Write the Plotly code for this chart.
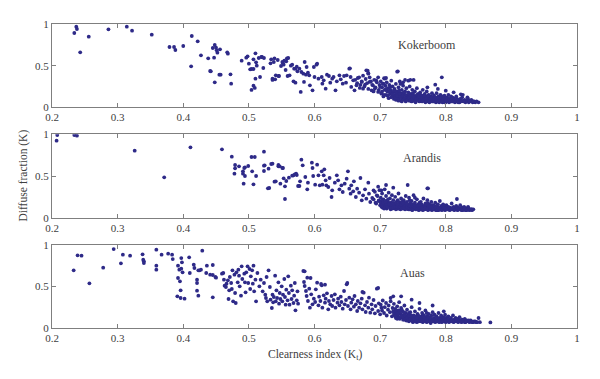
import plotly.graph_objects as go

# ---------------- data ----------------
kokerboom_pts = [
    (0.234,0.892),(0.237,0.968),(0.238,0.94),(0.256,0.848),(0.243,0.66),(0.286,0.936),(0.314,0.968),(0.322,0.92),
    (0.352,0.872),(0.379,0.724),(0.386,0.724),(0.388,0.688),(0.400,0.736),(0.413,0.856),(0.422,0.792),(0.412,0.492),
    (0.427,0.624),(0.438,0.588),(0.441,0.436),(0.445,0.712),(0.447,0.596),(0.448,0.748),(0.450,0.716),(0.451,0.684),
    (0.452,0.656),(0.448,0.30),(0.455,0.392),(0.456,0.696),(0.467,0.66),(0.468,0.644),(0.472,0.396),(0.473,0.284),
    (0.489,0.56),(0.496,0.596),(0.498,0.612),(0.500,0.524),(0.502,0.456),(0.504,0.46),(0.507,0.576),(0.507,0.46),
    (0.510,0.648),(0.511,0.54),(0.510,0.344),(0.504,0.208),(0.507,0.26),(0.509,0.232),(0.515,0.592),(0.517,0.364),
    (0.519,0.604),(0.522,0.472),(0.533,0.528),(0.534,0.576),(0.536,0.344),(0.536,0.328),(0.539,0.588),(0.541,0.384),
    (0.544,0.568),(0.546,0.376),(0.549,0.496),(0.552,0.528),(0.554,0.56),(0.556,0.448),(0.558,0.588),(0.559,0.376),
    (0.564,0.50),(0.568,0.312),(0.571,0.464),(0.573,0.488),(0.574,0.432),
    (0.442,0.432),(0.457,0.392),(0.512,0.50),(0.520,0.604),(0.523,0.592),(0.538,0.544),(0.540,0.336),(0.545,0.376),
    (0.551,0.544),(0.553,0.512),(0.557,0.552),(0.560,0.592),(0.562,0.384),(0.566,0.512),(0.569,0.464),(0.571,0.296),
    (0.577,0.464),(0.579,0.184),(0.580,0.424),(0.583,0.404),(0.585,0.544),(0.587,0.392),(0.588,0.484),(0.590,0.416),
    (0.592,0.384),(0.584,0.304),(0.593,0.264),(0.597,0.204),(0.599,0.484),(0.603,0.512),(0.604,0.524),(0.600,0.364),
    (0.606,0.344),(0.611,0.364),(0.612,0.284),(0.614,0.324),(0.617,0.224),(0.619,0.392),(0.622,0.376),(0.624,0.296),
    (0.627,0.344),(0.629,0.364),(0.632,0.204),(0.634,0.312),(0.638,0.384),(0.640,0.336),(0.643,0.284),(0.645,0.376),
    (0.648,0.296),(0.649,0.384),(0.653,0.464),(0.655,0.364),(0.656,0.244),(0.659,0.324),(0.661,0.204),(0.664,0.264),
    (0.666,0.352),(0.669,0.232),(0.672,0.304),(0.674,0.224),(0.677,0.272),(0.679,0.444),(0.682,0.404),(0.684,0.304),
    (0.687,0.204),(0.689,0.264),(0.692,0.224),(0.694,0.324),(0.697,0.184),(0.700,0.244),(0.702,0.164),(0.705,0.284),
    (0.707,0.344),(0.710,0.204),(0.712,0.144),(0.715,0.244),(0.717,0.184),(0.720,0.144),(0.722,0.204),(0.725,0.124),
    (0.727,0.164),(0.727,0.432),
    (0.662,0.33),(0.665,0.29),(0.668,0.36),(0.670,0.27),(0.672,0.31),(0.674,0.38),(0.676,0.25),(0.678,0.34),(0.680,0.29),
    (0.682,0.22),(0.684,0.36),(0.686,0.31),(0.688,0.27),(0.690,0.19),(0.691,0.33),(0.693,0.24),(0.695,0.30),(0.697,0.36),
    (0.698,0.21),(0.699,0.27),
    (0.701,0.31),(0.702,0.17),(0.703,0.24),(0.704,0.28),(0.705,0.13),(0.706,0.35),(0.707,0.21),(0.708,0.26),(0.709,0.15),
    (0.710,0.30),(0.711,0.19),(0.712,0.23),(0.713,0.11),(0.714,0.27),(0.715,0.16),(0.716,0.21),(0.717,0.32),(0.718,0.13),
    (0.719,0.25),(0.720,0.18),
    (0.721,0.10),(0.722,0.22),(0.723,0.15),(0.724,0.28),(0.725,0.12),(0.726,0.19),(0.727,0.09),(0.728,0.24),(0.729,0.14),
    (0.730,0.31),(0.731,0.17),(0.732,0.08),(0.733,0.21),(0.734,0.12),(0.735,0.26),(0.736,0.10),(0.737,0.15),(0.738,0.19),
    (0.739,0.07),(0.740,0.23),(0.722,0.13),(0.725,0.17),(0.728,0.11),(0.731,0.13),(0.734,0.16),(0.737,0.09),(0.740,0.12),
    (0.724,0.09),(0.729,0.20),(0.733,0.07),
    (0.741,0.14),(0.742,0.10),(0.743,0.18),(0.744,0.08),(0.745,0.25),(0.746,0.12),(0.747,0.16),(0.748,0.07),(0.749,0.21),
    (0.750,0.11),(0.751,0.14),(0.752,0.09),(0.753,0.19),(0.754,0.06),(0.755,0.13),(0.756,0.23),(0.757,0.10),(0.758,0.16),
    (0.759,0.08),(0.760,0.12),(0.742,0.13),(0.745,0.09),(0.748,0.12),(0.751,0.08),(0.754,0.11),(0.757,0.14),(0.760,0.07),
    (0.744,0.15),(0.750,0.17),(0.756,0.09),
    (0.761,0.18),(0.762,0.10),(0.763,0.14),(0.764,0.07),(0.765,0.21),(0.766,0.11),(0.767,0.09),(0.768,0.16),(0.769,0.06),
    (0.770,0.13),(0.771,0.19),(0.772,0.08),(0.773,0.11),(0.774,0.15),(0.775,0.06),(0.776,0.10),(0.777,0.13),(0.778,0.08),
    (0.779,0.17),(0.780,0.11),(0.763,0.09),(0.766,0.14),(0.769,0.10),(0.772,0.12),(0.775,0.09),(0.778,0.12),(0.761,0.12),
    (0.767,0.12),(0.773,0.07),(0.779,0.07),
    (0.781,0.07),(0.782,0.14),(0.783,0.09),(0.784,0.12),(0.785,0.06),(0.786,0.17),(0.787,0.10),(0.788,0.08),(0.789,0.13),
    (0.790,0.06),(0.791,0.11),(0.792,0.15),(0.793,0.08),(0.794,0.10),(0.795,0.06),(0.796,0.12),(0.797,0.08),(0.798,0.14),
    (0.799,0.07),(0.800,0.10),(0.783,0.11),(0.787,0.07),(0.790,0.09),(0.794,0.13),(0.797,0.10),(0.800,0.06),(0.785,0.10),
    (0.792,0.07),
    (0.802,0.12),(0.803,0.08),(0.805,0.06),(0.806,0.10),(0.808,0.13),(0.809,0.07),(0.811,0.09),(0.812,0.11),(0.814,0.06),
    (0.815,0.08),(0.817,0.10),(0.818,0.07),(0.820,0.09),(0.804,0.15),(0.810,0.12),(0.816,0.13),
    (0.821,0.06),(0.822,0.10),(0.824,0.08),(0.825,0.12),(0.827,0.07),(0.829,0.09),(0.830,0.06),(0.832,0.08),(0.834,0.10),
    (0.835,0.06),(0.837,0.07),(0.839,0.09),(0.841,0.06),(0.843,0.07),(0.845,0.06),(0.847,0.07),(0.850,0.06),(0.826,0.15),
    (0.833,0.12),
    (0.654,0.468),(0.681,0.44),(0.682,0.41),(0.726,0.428),(0.794,0.36),(0.709,0.352),(0.738,0.328),(0.751,0.328),
    (0.784,0.272),(0.823,0.156),(0.746,0.33),(0.743,0.32),(0.735,0.30),(0.731,0.28),(0.772,0.24),(0.788,0.22),
    (0.800,0.20),(0.812,0.18),
]
kokerboom_core_pts = [
    (0.703,0.19),(0.706,0.15),(0.709,0.22),(0.711,0.14),(0.714,0.19),(0.717,0.12),(0.719,0.16),(0.721,0.20),(0.723,0.11),
    (0.726,0.14),(0.728,0.08),(0.730,0.16),(0.732,0.12),(0.735,0.14),(0.736,0.18),(0.738,0.11),(0.739,0.15),(0.741,0.09),
    (0.743,0.12),(0.744,0.11),(0.746,0.08),(0.747,0.13),(0.749,0.10),(0.750,0.13),(0.752,0.12),(0.753,0.08),(0.755,0.10),
    (0.756,0.15),(0.758,0.11),(0.759,0.13),(0.761,0.09),(0.762,0.15),(0.764,0.11),(0.765,0.08),(0.767,0.14),(0.768,0.10),
    (0.770,0.08),(0.771,0.11),(0.773,0.14),(0.774,0.09),(0.776,0.07),(0.777,0.10),(0.779,0.12),(0.780,0.08),(0.782,0.10),
    (0.783,0.07),(0.785,0.12),(0.786,0.08),(0.788,0.11),(0.789,0.07),(0.791,0.09),(0.793,0.11),(0.795,0.08),(0.796,0.10),
    (0.798,0.06),(0.799,0.09),(0.801,0.08),(0.803,0.11),(0.805,0.09),(0.807,0.07),(0.809,0.10),(0.811,0.07),(0.813,0.09),
    (0.815,0.07),(0.817,0.08),(0.819,0.06),(0.823,0.07),(0.828,0.08),(0.836,0.08),(0.842,0.07),
]

arandis_pts = [
    (0.207,0.924),(0.208,0.992),(0.234,0.992),(0.238,0.984),(0.326,0.804),(0.371,0.484),(0.411,0.844),(0.459,0.82),
    (0.474,0.732),(0.479,0.632),(0.479,0.592),(0.478,0.528),(0.485,0.616),(0.491,0.556),(0.494,0.604),(0.494,0.50),
    (0.492,0.408),(0.504,0.728),(0.523,0.792),(0.523,0.624),(0.523,0.56),(0.530,0.588),(0.534,0.644),(0.529,0.352),
    (0.539,0.432),(0.545,0.632),(0.545,0.616),(0.548,0.408),(0.551,0.596),(0.553,0.472),(0.555,0.224),(0.555,0.376),
    (0.557,0.44),(0.561,0.48),(0.566,0.504),(0.570,0.52),(0.573,0.512),(0.575,0.38),
    (0.493,0.596),(0.491,0.528),(0.499,0.62),(0.505,0.556),(0.507,0.40),(0.509,0.728),(0.511,0.50),(0.524,0.628),
    (0.531,0.356),(0.536,0.648),(0.541,0.436),(0.547,0.616),(0.552,0.596),(0.568,0.508),(0.572,0.528),(0.577,0.38),
    (0.578,0.436),(0.580,0.696),(0.582,0.628),(0.586,0.488),(0.589,0.34),(0.590,0.42),(0.596,0.66),(0.597,0.596),
    (0.598,0.50),(0.601,0.396),(0.604,0.636),(0.606,0.508),(0.608,0.388),(0.611,0.556),(0.612,0.396),(0.614,0.508),
    (0.615,0.58),(0.617,0.448),(0.618,0.388),(0.621,0.368),(0.623,0.476),(0.626,0.248),(0.627,0.328),(0.631,0.42),
    (0.634,0.508),(0.636,0.448),(0.638,0.34),(0.641,0.388),(0.643,0.308),(0.646,0.408),(0.649,0.468),(0.651,0.556),
    (0.653,0.348),(0.655,0.288),(0.656,0.388),(0.659,0.316),(0.660,0.436),(0.663,0.248),(0.665,0.348),(0.668,0.30),
    (0.670,0.476),(0.672,0.208),(0.674,0.268),(0.677,0.34),(0.679,0.228),(0.682,0.42),(0.683,0.288),(0.685,0.188),
    (0.688,0.236),(0.690,0.328),(0.693,0.18),(0.695,0.268),(0.698,0.208),(0.702,0.328),(0.705,0.148),
    (0.690,0.22),(0.692,0.31),(0.694,0.17),(0.696,0.26),(0.698,0.20),(0.699,0.33),
    (0.700,0.15),(0.701,0.24),(0.702,0.19),(0.703,0.29),(0.704,0.12),(0.705,0.22),(0.706,0.17),(0.707,0.34),(0.708,0.14),
    (0.709,0.26),(0.710,0.11),(0.711,0.20),(0.712,0.16),(0.713,0.30),(0.714,0.13),(0.715,0.23),(0.716,0.10),(0.717,0.18),
    (0.718,0.27),(0.719,0.14),(0.720,0.21),(0.701,0.18),(0.704,0.16),(0.707,0.13),(0.710,0.16),(0.713,0.18),(0.716,0.14),
    (0.719,0.11),(0.703,0.21),(0.709,0.20),(0.715,0.12),
    (0.721,0.12),(0.722,0.17),(0.723,0.25),(0.724,0.10),(0.725,0.15),(0.726,0.20),(0.727,0.11),(0.728,0.29),(0.729,0.14),
    (0.730,0.18),(0.731,0.10),(0.732,0.23),(0.733,0.13),(0.734,0.16),(0.735,0.11),(0.736,0.21),(0.737,0.14),(0.738,0.10),
    (0.739,0.26),(0.740,0.15),(0.722,0.13),(0.725,0.11),(0.728,0.16),(0.731,0.14),(0.734,0.12),(0.737,0.18),(0.740,0.11),
    (0.727,0.21),(0.733,0.19),(0.724,0.14),
    (0.741,0.19),(0.742,0.11),(0.743,0.14),(0.744,0.24),(0.745,0.10),(0.746,0.17),(0.747,0.12),(0.748,0.20),(0.749,0.09),
    (0.750,0.15),(0.751,0.27),(0.752,0.12),(0.753,0.18),(0.754,0.10),(0.755,0.14),(0.756,0.22),(0.757,0.11),(0.758,0.16),
    (0.759,0.09),(0.760,0.13),(0.743,0.10),(0.746,0.13),(0.749,0.16),(0.752,0.15),(0.755,0.11),(0.758,0.12),(0.745,0.21),
    (0.753,0.24),(0.760,0.18),
    (0.761,0.10),(0.762,0.19),(0.763,0.12),(0.764,0.15),(0.765,0.09),(0.766,0.23),(0.767,0.13),(0.768,0.10),(0.769,0.17),
    (0.770,0.11),(0.771,0.14),(0.772,0.21),(0.773,0.09),(0.774,0.12),(0.775,0.16),(0.776,0.10),(0.777,0.13),(0.778,0.19),
    (0.779,0.09),(0.780,0.12),(0.763,0.16),(0.767,0.10),(0.771,0.11),(0.775,0.13),(0.779,0.15),(0.765,0.13),(0.773,0.17),
    (0.781,0.15),(0.782,0.10),(0.783,0.12),(0.784,0.18),(0.785,0.09),(0.786,0.13),(0.787,0.11),(0.788,0.16),(0.789,0.09),
    (0.790,0.12),(0.791,0.20),(0.792,0.10),(0.793,0.14),(0.794,0.09),(0.795,0.12),(0.796,0.16),(0.797,0.10),(0.798,0.13),
    (0.799,0.09),(0.800,0.11),
    (0.801,0.15),(0.803,0.10),(0.804,0.13),(0.806,0.09),(0.807,0.12),(0.809,0.17),(0.810,0.10),(0.812,0.13),(0.813,0.09),
    (0.815,0.11),(0.816,0.14),(0.818,0.09),(0.819,0.12),(0.821,0.10),(0.822,0.15),(0.824,0.09),(0.825,0.12),(0.827,0.10),
    (0.828,0.13),(0.830,0.09),(0.831,0.11),(0.833,0.10),(0.834,0.13),(0.836,0.09),(0.838,0.10),(0.840,0.09),(0.842,0.10),
    (0.742,0.392),(0.773,0.352),(0.817,0.224),(0.840,0.10),(0.720,0.36),(0.709,0.392),(0.697,0.372),(0.772,0.352),
]
arandis_core_pts = [
    (0.702,0.13),(0.705,0.18),(0.706,0.11),(0.708,0.19),(0.711,0.13),(0.712,0.22),(0.714,0.16),(0.717,0.12),(0.718,0.15),
    (0.720,0.12),(0.721,0.16),(0.723,0.13),(0.724,0.18),(0.726,0.13),(0.727,0.16),(0.729,0.11),(0.730,0.13),(0.732,0.15),
    (0.733,0.11),(0.735,0.17),(0.736,0.12),(0.738,0.14),(0.739,0.11),(0.741,0.13),(0.742,0.16),(0.744,0.12),(0.745,0.14),
    (0.747,0.10),(0.748,0.13),(0.750,0.11),(0.751,0.13),(0.753,0.12),(0.754,0.15),(0.756,0.10),(0.757,0.14),(0.759,0.12),
    (0.761,0.14),(0.762,0.11),(0.764,0.12),(0.766,0.10),(0.768,0.14),(0.769,0.11),(0.770,0.16),(0.772,0.10),(0.774,0.14),
    (0.776,0.12),(0.777,0.10),(0.779,0.12),(0.781,0.11),(0.783,0.14),(0.785,0.12),(0.787,0.09),(0.789,0.12),(0.791,0.10),
    (0.793,0.11),(0.795,0.10),(0.797,0.12),(0.799,0.11),(0.802,0.10),(0.805,0.12),(0.808,0.10),(0.811,0.11),(0.814,0.10),
    (0.817,0.11),(0.820,0.10),(0.823,0.11),(0.826,0.09),(0.829,0.11),(0.832,0.09),(0.835,0.11),(0.839,0.10),
]

auas_pts = [
    (0.233,0.692),(0.239,0.872),(0.245,0.868),(0.257,0.536),(0.278,0.724),(0.294,0.948),(0.305,0.776),(0.308,0.88),
    (0.319,0.868),(0.338,0.884),(0.339,0.82),(0.340,0.80),(0.340,0.78),(0.359,0.94),(0.359,0.748),(0.359,0.70),
    (0.367,0.88),(0.377,0.892),(0.383,0.88),(0.384,0.828),(0.392,0.748),(0.392,0.60),(0.391,0.38),(0.394,0.70),
    (0.395,0.56),(0.396,0.452),(0.396,0.36),(0.397,0.84),(0.398,0.788),(0.397,0.712),(0.399,0.668),(0.402,0.352),
    (0.409,0.848),(0.410,0.66),(0.416,0.76),(0.417,0.72),(0.421,0.58),(0.421,0.54),(0.421,0.448),(0.423,0.692),
    (0.423,0.388),(0.425,0.692),(0.427,0.70),(0.429,0.928),(0.435,0.66),(0.436,0.748),(0.441,0.64),(0.445,0.756),
    (0.445,0.368),(0.445,0.636),(0.449,0.612),(0.450,0.604),(0.459,0.652),(0.461,0.66),(0.462,0.58),(0.463,0.508),
    (0.465,0.492),(0.466,0.532),(0.468,0.572),(0.469,0.348),(0.470,0.452),(0.471,0.612),(0.473,0.54),(0.474,0.468),
    (0.475,0.692),(0.476,0.32),(0.478,0.64),(0.479,0.42),(0.480,0.30),(0.481,0.668),(0.483,0.548),(0.484,0.70),
    (0.485,0.628),(0.486,0.50),(0.488,0.388),(0.489,0.74),(0.490,0.588),(0.493,0.652),(0.494,0.548),(0.495,0.428),
    (0.496,0.668),(0.498,0.74),(0.499,0.54),(0.501,0.708),(0.502,0.468),(0.503,0.62),(0.505,0.692),(0.506,0.532),
    (0.507,0.748),(0.508,0.44),(0.510,0.58),(0.511,0.32),(0.513,0.66),(0.516,0.50),(0.518,0.58),(0.521,0.44),
    (0.523,0.54),(0.525,0.40),(0.526,0.36),(0.527,0.612),(0.528,0.32),(0.530,0.692),(0.532,0.492),(0.533,0.34),
    (0.535,0.24),(0.536,0.40),(0.537,0.308),(0.538,0.372),(0.540,0.628),(0.541,0.32),(0.542,0.452),(0.543,0.36),
    (0.545,0.548),(0.546,0.292),(0.547,0.42),(0.548,0.348),(0.550,0.50),(0.551,0.32),(0.552,0.40),(0.554,0.588),
    (0.555,0.372),(0.556,0.28),(0.557,0.46),(0.559,0.332),(0.560,0.62),(0.561,0.42),(0.562,0.28),(0.564,0.508),
    (0.565,0.348),(0.566,0.452),(0.568,0.30),(0.569,0.388),(0.570,0.54),(0.571,0.212),(0.573,0.332),(0.574,0.44),
    (0.575,0.292),
    (0.583,0.684),(0.584,0.552),(0.585,0.504),(0.587,0.444),(0.588,0.384),(0.589,0.604),(0.590,0.324),(0.592,0.472),
    (0.593,0.244),(0.595,0.404),(0.597,0.284),(0.599,0.352),(0.601,0.312),(0.602,0.464),(0.604,0.544),(0.606,0.272),
    (0.607,0.376),(0.609,0.324),(0.611,0.512),(0.612,0.244),(0.614,0.392),(0.616,0.304),(0.617,0.352),(0.619,0.416),
    (0.621,0.224),(0.622,0.324),(0.624,0.284),(0.626,0.384),(0.627,0.264),(0.629,0.336),(0.631,0.404),(0.632,0.244),
    (0.635,0.304),(0.636,0.352),(0.638,0.272),(0.640,0.376),(0.641,0.312),(0.643,0.232),(0.645,0.444),(0.646,0.284),
    (0.648,0.336),(0.649,0.524),(0.651,0.264),(0.653,0.364),(0.655,0.224),(0.656,0.304),(0.658,0.344),(0.660,0.256),
    (0.661,0.384),(0.663,0.284),(0.665,0.204),(0.666,0.324),(0.668,0.244),(0.670,0.296),(0.672,0.352),(0.673,0.224),
    (0.675,0.424),(0.677,0.272),(0.678,0.192),(0.680,0.312),(0.682,0.244),(0.683,0.364),(0.685,0.184),(0.687,0.284),
    (0.688,0.224),(0.690,0.336),(0.692,0.176),(0.693,0.264),(0.695,0.472),(0.697,0.204),(0.698,0.296),(0.700,0.164),
    (0.702,0.244),
    (0.701,0.28),(0.703,0.21),(0.704,0.33),(0.706,0.18),(0.707,0.25),(0.709,0.30),(0.710,0.15),(0.712,0.22),(0.713,0.27),
    (0.715,0.19),(0.716,0.32),(0.718,0.14),(0.719,0.24),(0.720,0.20),
    (0.721,0.29),(0.722,0.16),(0.723,0.23),(0.724,0.12),(0.725,0.19),(0.726,0.26),(0.727,0.14),(0.728,0.21),(0.729,0.31),
    (0.730,0.11),(0.731,0.17),(0.732,0.24),(0.733,0.13),(0.734,0.20),(0.735,0.10),(0.736,0.15),(0.737,0.27),(0.738,0.12),
    (0.739,0.18),(0.740,0.09),(0.722,0.20),(0.725,0.15),(0.728,0.17),(0.731,0.13),(0.734,0.15),(0.737,0.10),(0.740,0.14),
    (0.726,0.11),(0.733,0.22),
    (0.741,0.22),(0.742,0.11),(0.743,0.16),(0.744,0.08),(0.745,0.13),(0.746,0.19),(0.747,0.10),(0.748,0.25),(0.749,0.12),
    (0.750,0.07),(0.751,0.15),(0.752,0.09),(0.753,0.20),(0.754,0.11),(0.755,0.14),(0.756,0.07),(0.757,0.17),(0.758,0.10),
    (0.759,0.12),(0.760,0.23),(0.742,0.14),(0.745,0.10),(0.748,0.09),(0.751,0.11),(0.754,0.08),(0.757,0.13),(0.760,0.09),
    (0.744,0.18),(0.752,0.13),(0.758,0.15),
    (0.761,0.08),(0.762,0.13),(0.763,0.10),(0.764,0.18),(0.765,0.07),(0.766,0.11),(0.767,0.15),(0.768,0.09),(0.769,0.21),
    (0.770,0.12),(0.771,0.07),(0.772,0.14),(0.773,0.10),(0.774,0.17),(0.775,0.08),(0.776,0.12),(0.777,0.06),(0.778,0.15),
    (0.779,0.10),(0.780,0.19),(0.763,0.14),(0.766,0.08),(0.769,0.11),(0.772,0.09),(0.775,0.13),(0.778,0.08),(0.765,0.16),
    (0.771,0.18),
    (0.781,0.08),(0.782,0.12),(0.783,0.16),(0.784,0.07),(0.785,0.10),(0.786,0.14),(0.787,0.08),(0.788,0.11),(0.789,0.18),
    (0.790,0.07),(0.791,0.12),(0.792,0.09),(0.793,0.15),(0.794,0.07),(0.795,0.11),(0.796,0.13),(0.797,0.08),(0.798,0.10),
    (0.799,0.16),(0.800,0.07),
    (0.801,0.12),(0.802,0.09),(0.804,0.14),(0.805,0.07),(0.806,0.10),(0.808,0.12),(0.809,0.08),(0.811,0.15),(0.812,0.07),
    (0.813,0.10),(0.815,0.12),(0.816,0.08),(0.818,0.11),(0.819,0.07),(0.821,0.13),(0.822,0.09),(0.824,0.07),(0.825,0.10),
    (0.827,0.08),(0.829,0.11),(0.830,0.07),(0.832,0.09),(0.834,0.08),(0.836,0.07),(0.838,0.09),(0.840,0.07),(0.843,0.08),
    (0.846,0.07),(0.850,0.12),(0.868,0.067),
    (0.732,0.38),(0.748,0.34),(0.797,0.20),(0.585,0.68),(0.594,0.60),(0.610,0.528),(0.616,0.52),(0.650,0.54),
    (0.673,0.432),(0.697,0.48),(0.720,0.38),(0.716,0.36),(0.760,0.30),(0.780,0.27),
]
auas_core_pts = [
    (0.721,0.17),(0.723,0.14),(0.724,0.21),(0.727,0.18),(0.729,0.12),(0.730,0.20),(0.732,0.14),(0.735,0.13),(0.736,0.19),
    (0.738,0.15),(0.739,0.11),(0.741,0.12),(0.743,0.09),(0.744,0.14),(0.746,0.11),(0.747,0.15),(0.749,0.10),(0.750,0.12),
    (0.752,0.11),(0.753,0.14),(0.755,0.09),(0.756,0.12),(0.758,0.08),(0.759,0.14),(0.761,0.11),(0.762,0.09),(0.764,0.12),
    (0.766,0.13),(0.767,0.09),(0.768,0.12),(0.770,0.10),(0.772,0.11),(0.773,0.08),(0.774,0.12),(0.776,0.09),(0.777,0.11),
    (0.779,0.08),(0.781,0.11),(0.782,0.09),(0.784,0.10),(0.786,0.09),(0.787,0.12),(0.789,0.08),(0.791,0.10),(0.793,0.08),
    (0.794,0.11),(0.796,0.09),(0.798,0.12),(0.800,0.09),(0.803,0.10),(0.806,0.08),(0.808,0.10),(0.810,0.09),(0.813,0.08),
    (0.816,0.10),(0.818,0.08),(0.821,0.09),(0.823,0.08),(0.826,0.09),(0.829,0.07),(0.831,0.08),(0.835,0.09),(0.839,0.08),
    (0.842,0.07),(0.845,0.08),(0.848,0.07),(0.852,0.07),
]

panel_names = ["Kokerboom", "Arandis", "Auas"]
panel_label_pos = [(0.771, 0.75), (0.764, 0.72), (0.749, 0.66)]
x_tick_vals = [0.2, 0.3, 0.4, 0.5, 0.6, 0.7, 0.8, 0.9, 1.0]
x_tick_text = ["0.2", "0.3", "0.4", "0.5", "0.6", "0.7", "0.8", "0.9", "1"]
y_tick_vals = [0, 0.5, 1]
y_tick_text = ["0", "0.5", "1"]

# ---------------- figure ----------------
MARKER = "#2E2A88"
AXIS = "#7f7f7f"
TXT = "#404040"
FONT = "Liberation Serif"

fig = go.Figure()
domains = [[0.726, 1.0], [0.363, 0.637], [0.0, 0.274]]
all_pts = [kokerboom_pts + kokerboom_core_pts,
           arandis_pts + arandis_core_pts,
           auas_pts + auas_core_pts]

# page body has an 8px default margin, so the figure is 8px smaller
layout = dict(
    width=592, height=371,
    margin=dict(l=44, r=23, t=16, b=51, autoexpand=False),
    paper_bgcolor="white", plot_bgcolor="white",
    showlegend=False,
    font=dict(family=FONT, size=11, color=TXT),
)

annotations = []
for i, pts in enumerate(all_pts):
    n = "" if i == 0 else str(i + 1)
    xs, ys = zip(*pts)
    fig.add_trace(go.Scatter(
        x=list(xs), y=list(ys), mode="markers",
        marker=dict(color=MARKER, size=3.8, line=dict(width=0)),
        xaxis="x" + n, yaxis="y" + n, hoverinfo="skip",
    ))
    common = dict(showline=True, linecolor=AXIS, linewidth=1, mirror="ticks",
                  ticks="inside", ticklen=4, tickcolor=AXIS, tickwidth=1,
                  showgrid=False, zeroline=False, automargin=False,
                  tickfont=dict(family=FONT, size=11, color=TXT))
    layout["xaxis" + n] = dict(range=[0.2, 1.0], tickvals=x_tick_vals, ticktext=x_tick_text,
                               anchor="y" + n, domain=[0, 1], **common)
    layout["yaxis" + n] = dict(range=[0, 1], tickvals=y_tick_vals, ticktext=y_tick_text,
                               anchor="x" + n, domain=domains[i], **common)
    lx, ly = panel_label_pos[i]
    annotations.append(dict(x=lx, y=ly, xref="x" + n, yref="y" + n, text=panel_names[i],
                            showarrow=False, font=dict(family=FONT, size=12, color=TXT)))

annotations.append(dict(x=0.5, y=-0.058, xref="paper", yref="paper",
                        text="Clearness index (K<sub>t</sub>)", showarrow=False,
                        xanchor="center", yanchor="top",
                        font=dict(family=FONT, size=11.5, color=TXT)))
annotations.append(dict(x=-0.04, y=0.5, xref="paper", yref="paper",
                        text="Diffuse fraction (K)", showarrow=False, textangle=-90,
                        xanchor="right", yanchor="middle",
                        font=dict(family=FONT, size=11.5, color=TXT)))
layout["annotations"] = annotations

fig.update_layout(**layout)
fig.write_html("out.html")
